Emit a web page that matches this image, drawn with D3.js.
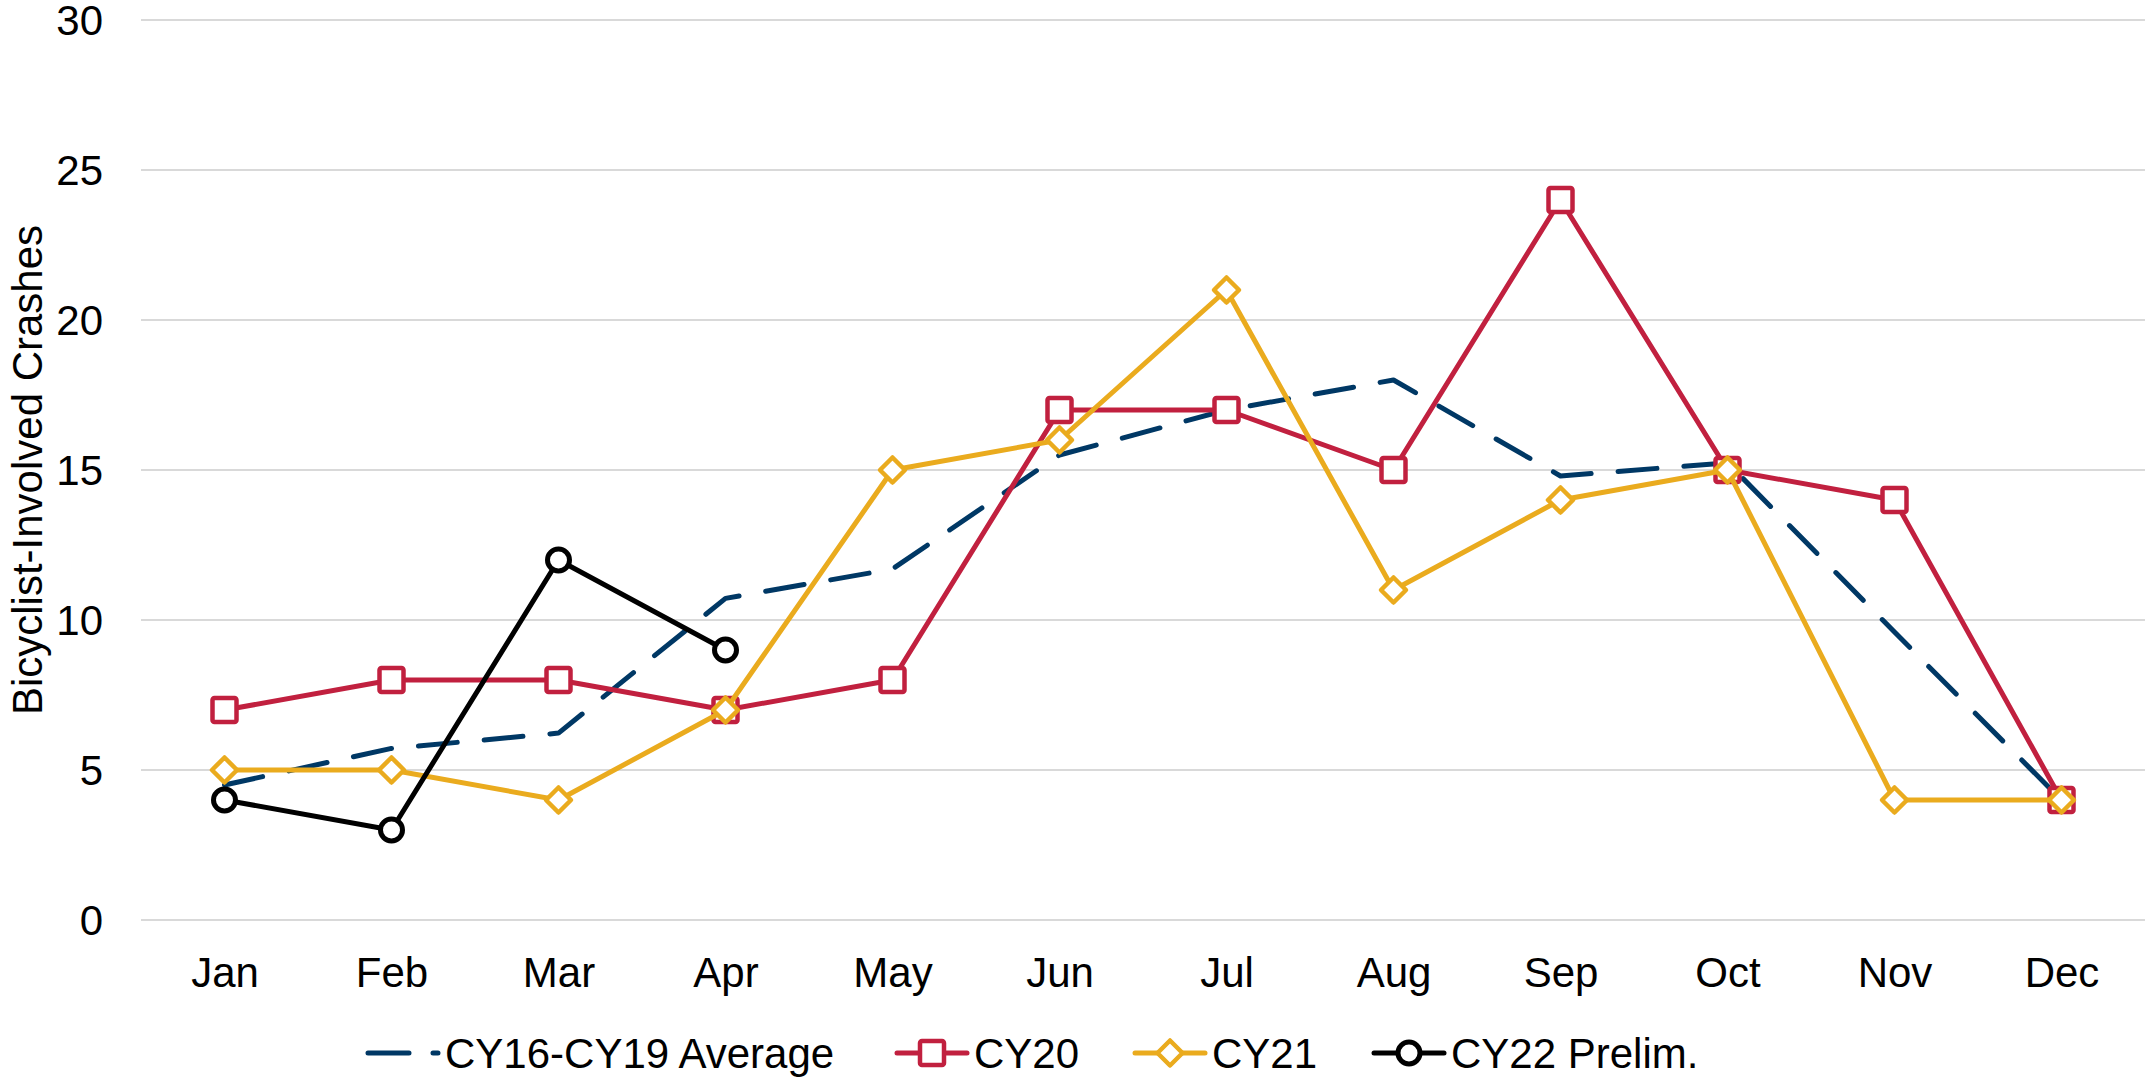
<!DOCTYPE html>
<html><head><meta charset="utf-8">
<script src="https://cdn.jsdelivr.net/npm/d3@7"></script>
<style>
html,body{margin:0;padding:0;background:#fff;}
text{font-family:"Liberation Sans",Arial,sans-serif;fill:#000;}
</style></head>
<body><svg id="c" width="2146" height="1080"></svg>
<script>
const months = ["Jan","Feb","Mar","Apr","May","Jun","Jul","Aug","Sep","Oct","Nov","Dec"];
const yTicks = [0,5,10,15,20,25,30];
const avgValues = [4.5,5.72,6.23,10.72,11.7,15.5,17,18,14.8,15.24,9.6,4];
const cy20Values = [7,8,8,7,8,17,17,15,24,15,14,4];
const cy21Values = [5,5,4,7,15,16,21,11,14,15,4,4];
const cy22Values = [4,3,12,9];
const seriesNames = ["CY16-CY19 Average","CY20","CY21","CY22 Prelim."];
const yTitle = "Bicyclist-Involved Crashes";

const series = [
  {name: seriesNames[0], values: avgValues, color: "#003865", marker: "none", dash: "39 27"},
  {name: seriesNames[1], values: cy20Values, color: "#C1203F", marker: "square"},
  {name: seriesNames[2], values: cy21Values, color: "#EAAB1E", marker: "diamond"},
  {name: seriesNames[3], values: cy22Values, color: "#000000", marker: "circle"}
];

const svg = d3.select("#c");
const x = d3.scalePoint().domain(months).range([141, 2145]).padding(0.5);
const y = d3.scaleLinear().domain([0,30]).range([920,20]);

// gridlines
svg.append("g").selectAll("line").data(yTicks).join("line")
  .attr("x1", 141).attr("x2", 2145)
  .attr("y1", d => y(d)).attr("y2", d => y(d))
  .attr("stroke", "#d9d9d9").attr("stroke-width", 2);

// y axis labels
const yAxis = d3.axisLeft(y).tickValues(yTicks).tickSize(0).tickPadding(0);
const gy = svg.append("g").attr("transform","translate(103,0)").call(yAxis);
gy.select(".domain").remove();
gy.selectAll("text").attr("font-size", 42).attr("font-family", "Liberation Sans, Arial, sans-serif").attr("fill","#000").attr("dy","0.35em");

// x axis labels
const xAxis = d3.axisBottom(x).tickSize(0).tickPadding(0);
const gx = svg.append("g").attr("transform","translate(0,958)").call(xAxis);
gx.select(".domain").remove();
gx.selectAll("text").attr("font-size", 42).attr("font-family", "Liberation Sans, Arial, sans-serif").attr("fill","#000").attr("dy","0.7em");

// y title
svg.append("text").attr("transform","translate(42,470) rotate(-90)")
  .attr("text-anchor","middle").attr("font-size",42).text(yTitle);

function drawMarker(g, type, color, cx, cy) {
  if (type === "square") {
    g.append("rect").attr("x", cx-12).attr("y", cy-12).attr("width", 24).attr("height", 24)
      .attr("rx", 2).attr("fill","#fff").attr("stroke", color).attr("stroke-width", 4.5);
  } else if (type === "diamond") {
    g.append("path").attr("d", `M${cx},${cy-12.5}L${cx+12.5},${cy}L${cx},${cy+12.5}L${cx-12.5},${cy}Z`)
      .attr("fill","#fff").attr("stroke", color).attr("stroke-width", 4.5).attr("stroke-linejoin","round");
  } else if (type === "circle") {
    g.append("circle").attr("cx", cx).attr("cy", cy).attr("r", 11)
      .attr("fill","#fff").attr("stroke", color).attr("stroke-width", 5);
  }
}

const line = d3.line().x((d,i) => x(months[i])).y(d => y(d));

series.forEach(s => {
  const g = svg.append("g");
  g.append("path").attr("d", line(s.values)).attr("fill","none")
    .attr("stroke", s.color).attr("stroke-width", 5)
    .attr("stroke-linejoin","round").attr("stroke-linecap","round")
    .attr("stroke-dasharray", s.dash || null);
  if (s.marker !== "none") {
    s.values.forEach((v,i) => drawMarker(g, s.marker, s.color, x(months[i]), y(v)));
  }
});

// legend
const legendX = [368, 897, 1135, 1374];
const legendY = 1053;
series.forEach((s,i) => {
  const g = svg.append("g");
  const lx = legendX[i];
  g.append("line").attr("x1", lx).attr("x2", lx+70).attr("y1", legendY).attr("y2", legendY)
    .attr("stroke", s.color).attr("stroke-width", 5).attr("stroke-linecap","round")
    .attr("stroke-dasharray", s.dash ? "41 24" : null);
  if (s.marker !== "none") drawMarker(g, s.marker, s.color, lx+35, legendY);
  g.append("text").attr("x", lx+77).attr("y", legendY+15).attr("font-size", 42).text(s.name);
});
</script></body></html>
